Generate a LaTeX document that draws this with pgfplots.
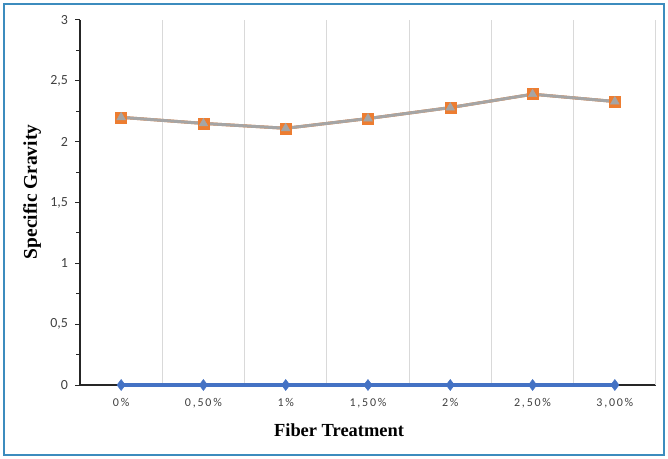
\documentclass[border=0pt]{standalone}
\usepackage{pgfplots}
\pgfplotsset{compat=1.18}
\usepackage{fontspec}
\setmainfont{Liberation Serif}
\newfontfamily\tickfont{Carlito}
\newfontfamily\tickfontsp[LetterSpace=15]{Carlito}

\definecolor{xlblue}{HTML}{4472C4}
\definecolor{xlorange}{HTML}{ED7D31}
\definecolor{xlgray}{HTML}{A5A5A5}
\definecolor{gridgray}{HTML}{D9D9D9}
\definecolor{ticktext}{HTML}{404040}
\definecolor{framecol}{RGB}{60,140,190}

\begin{document}
\begin{tikzpicture}
\useasboundingbox (0,0) rectangle (668bp,459bp);
\draw[framecol, line width=1.2bp] (4bp,4bp) rectangle (664bp,455bp);
\begin{axis}[
  at={(80bp,74bp)}, anchor=south west,
  scale only axis,
  width=576bp, height=365bp,
  xmin=-0.5, xmax=6.5, ymin=0, ymax=3,
  clip=false,
  axis lines*=left,
  axis line style={black!85, line width=1.2bp},
  xtick={0,1,2,3,4,5,6},
  xticklabels={0\%,{0,50\%},1\%,{1,50\%},2\%,{2,50\%},{3,00\%}},
  major x tick style={draw=none},
  x tick label style={font=\tickfontsp\fontsize{12}{14}\selectfont, text=ticktext, yshift=-5bp},
  extra x ticks={0.5,1.5,2.5,3.5,4.5,5.5,6.5},
  extra x tick labels={},
  extra x tick style={grid=major, major tick length=0pt,
    major grid style={gridgray, line width=1bp}},
  ytick={0,0.5,1,1.5,2,2.5,3},
  minor y tick num=1,
  tick align=outside,
  major tick length=5bp, minor tick length=4bp,
  y tick style={black!85, line width=1bp},
  y tick label style={font=\tickfont\fontsize{14}{16}\selectfont, text=ticktext, xshift=-3.5bp},
  yticklabel style={/pgf/number format/.cd, use comma, fixed, precision=1},
  /pgf/number format/assume math mode=true,
  xlabel={Fiber Treatment},
  ylabel={Specific Gravity},
  xlabel style={font=\bfseries\fontsize{18.5}{20}\selectfont, at={(axis description cs:0.4497,-0.123)}, anchor=center},
  ylabel style={font=\bfseries\fontsize{19.5}{21}\selectfont, at={(axis description cs:-0.0833,0.529)}, anchor=center},
]
\addplot[xlblue, line width=3.2bp, mark=diamond*, mark size=5.5bp,
  mark options={fill=xlblue, draw=xlblue, line width=0.5bp}]
  coordinates {(0,0) (1,0) (2,0) (3,0) (4,0) (5,0) (6,0)};
\addplot[xlorange, line width=3bp, mark=square*, mark size=5.5bp,
  mark options={fill=xlorange, draw=xlorange, line width=0.5bp}]
  coordinates {(0,2.20) (1,2.15) (2,2.11) (3,2.19) (4,2.28) (5,2.39) (6,2.33)};
\addplot[xlgray, line width=3bp, mark=triangle*, mark size=5bp,
  mark options={fill=xlgray, draw=xlgray, line width=0.5bp}]
  coordinates {(0,2.20) (1,2.15) (2,2.11) (3,2.19) (4,2.28) (5,2.39) (6,2.33)};
\end{axis}
\end{tikzpicture}
\end{document}
